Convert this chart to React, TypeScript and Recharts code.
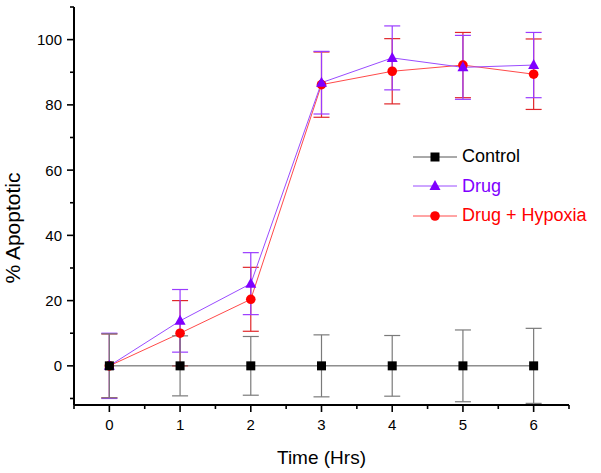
import React from "react";
import {
  ComposedChart,
  Line,
  XAxis,
  YAxis,
  ErrorBar,
} from "recharts";

const hours = [0, 1, 2, 3, 4, 5, 6];
const control = [0, 0, 0, 0, 0, 0, 0];
const controlErr = [9.8, 9.2, 9, 9.5, 9.3, 11, 11.5];
const drug = [0, 13.8, 25.2, 86.8, 94.4, 91.5, 92.2];
const drugErr = [10, 9.6, 9.5, 9.6, 9.8, 9.8, 10];
const hypoxia = [0, 10, 20.4, 86.2, 90.3, 92.2, 89.4];
const hypoxiaErr = [9.8, 10, 9.8, 10, 10, 10, 10.8];

const xTicks = [-0.5, 0, 0.5, 1, 1.5, 2, 2.5, 3, 3.5, 4, 4.5, 5, 5.5, 6, 6.5];
const yTicks = [-10, 0, 10, 20, 30, 40, 50, 60, 70, 80, 90, 100, 110];

const data = hours.map((h, i) => ({
  time: h,
  control: control[i],
  controlErr: controlErr[i],
  drug: drug[i],
  drugErr: drugErr[i],
  hypoxia: hypoxia[i],
  hypoxiaErr: hypoxiaErr[i],
}));

const FONT = "Arial, 'Liberation Sans', Helvetica, sans-serif";

const Square = ({ cx, cy, fill }: any) => (
  <rect x={cx - 4.5} y={cy - 4.5} width={9} height={9} fill={fill} />
);
const Triangle = ({ cx, cy, fill }: any) => (
  <polygon
    points={`${cx},${cy - 6} ${cx + 5.5},${cy + 4} ${cx - 5.5},${cy + 4}`}
    fill={fill}
  />
);
const Circle = ({ cx, cy, fill }: any) => (
  <circle cx={cx} cy={cy} r={4.8} fill={fill} />
);

const series = [
  { key: "hypoxia", err: "hypoxiaErr", name: "Drug + Hypoxia", color: "#ff0000", line: "#ff4a4a", bar: "#e0262a", Shape: Circle },
  { key: "drug", err: "drugErr", name: "Drug", color: "#7f00ff", line: "#9a4cff", bar: "#9a3cff", Shape: Triangle },
  { key: "control", err: "controlErr", name: "Control", color: "#000000", line: "#555555", bar: "#7a7a7a", Shape: Square },
];

const XTick = ({ x, y, payload }: any) => {
  const major = Number.isInteger(payload.value);
  return (
    <g>
      <line x1={x} x2={x} y1={y} y2={y + (major ? 7 : 4)} stroke="#000" strokeWidth={1.6} />
      {major && (
        <text x={x} y={y + 25} textAnchor="middle" fontSize={15} fontFamily={FONT} fill="#000">
          {payload.value}
        </text>
      )}
    </g>
  );
};

const YTick = ({ x, y, payload }: any) => {
  const major = payload.value % 20 === 0;
  return (
    <g>
      <line x1={x - (major ? 7 : 4)} x2={x} y1={y} y2={y} stroke="#000" strokeWidth={1.6} />
      {major && (
        <text x={x - 12} y={y + 5.5} textAnchor="end" fontSize={15} fontFamily={FONT} fill="#000">
          {payload.value}
        </text>
      )}
    </g>
  );
};

const LegendBox = () => (
  <div style={{ position: "absolute", left: 412, top: 142, fontFamily: FONT }}>
    {[...series].reverse().map((s) => (
      <div key={s.key} style={{ display: "flex", alignItems: "center", height: 29.5 }}>
        <svg width={48} height={20}>
          <line x1={1} x2={45} y1={10} y2={10} stroke={s.line} strokeWidth={1} />
          <s.Shape cx={23} cy={10} fill={s.color} />
        </svg>
        <span style={{ fontSize: 18, color: s.color, marginLeft: 2, whiteSpace: "nowrap" }}>
          {s.name}
        </span>
      </div>
    ))}
  </div>
);

export default function App() {
  return (
    <div style={{ position: "absolute", left: 0, top: 0, width: 601, height: 473, background: "#fff" }}>
      <ComposedChart
        width={601}
        height={473}
        data={data}
        margin={{ top: 7, right: 32, bottom: 0, left: 0 }}
      >
        <XAxis
          dataKey="time"
          type="number"
          domain={[-0.5, 6.5]}
          ticks={xTicks}
          interval={0}
          height={68}
          tickSize={0}
          tickMargin={0}
          tick={<XTick />}
          tickLine={false}
          axisLine={{ stroke: "#000", strokeWidth: 2 }}
          allowDataOverflow
          label={({ viewBox }: any) => (
            <text
              x={viewBox.x + viewBox.width / 2}
              y={viewBox.y + 59}
              textAnchor="middle"
              fontSize={19}
              fontFamily={FONT}
              fill="#000"
            >
              Time (Hrs)
            </text>
          )}
        />
        <YAxis
          type="number"
          domain={[-12, 110]}
          ticks={yTicks}
          interval={0}
          width={74}
          tickSize={0}
          tickMargin={0}
          tick={<YTick />}
          tickLine={false}
          axisLine={{ stroke: "#000", strokeWidth: 2 }}
          allowDataOverflow
          label={({ viewBox }: any) => {
            const cx = viewBox.x + 20;
            const cy = viewBox.y + viewBox.height / 2 + 22;
            return (
              <text
                x={cx}
                y={cy}
                transform={`rotate(-90 ${cx} ${cy})`}
                textAnchor="middle"
                fontSize={21}
                fontFamily={FONT}
                fill="#000"
              >
                % Apoptotic
              </text>
            );
          }}
        />
        {series.map((s) => (
          <Line
            key={s.key}
            dataKey={s.key}
            type="linear"
            stroke={s.line}
            strokeWidth={1}
            dot={(p: any) => <s.Shape key={`${s.key}-${p.index}`} cx={p.cx} cy={p.cy} fill={s.color} />}
            activeDot={false}
            isAnimationActive={false}
          >
            <ErrorBar dataKey={s.err} direction="y" width={8} stroke={s.bar} strokeWidth={1.2} />
          </Line>
        ))}
      </ComposedChart>
      <LegendBox />
    </div>
  );
}
